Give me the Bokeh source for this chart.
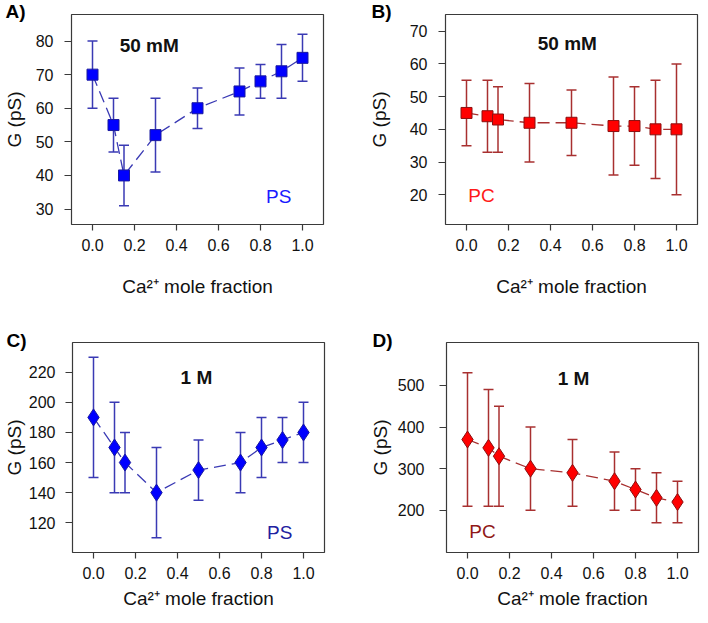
from bokeh.plotting import figure
from bokeh.models import ColumnDataSource, Whisker, TeeHead, Label, Range1d, FixedTicker, NumeralTickFormatter
from bokeh.layouts import column, row
from bokeh.embed import file_html
from bokeh.resources import INLINE

# ---------------- data ----------------
ca_fraction = [0.0, 0.1, 0.15, 0.3, 0.5, 0.7, 0.8, 0.9, 1.0]

ps_50mM = [70, 55, 40, 52, 60, 65, 68, 71, 75]
ps_50mM_upper = [80, 63, 49, 63, 66, 72, 73, 79, 82]
ps_50mM_lower = [60, 47, 31, 41, 54, 58, 63, 63, 68]

pc_50mM = [45, 44, 43, 42, 42, 41, 41, 40, 40]
pc_50mM_upper = [55, 55, 53, 54, 52, 56, 53, 55, 60]
pc_50mM_lower = [35, 33, 33, 30, 32, 26, 29, 25, 20]

ps_1M = [190, 170, 160, 140, 155, 160, 170, 175, 180]
ps_1M_upper = [230, 200, 180, 170, 175, 180, 190, 190, 200]
ps_1M_lower = [150, 140, 140, 110, 135, 140, 150, 160, 160]

pc_1M = [370, 350, 330, 300, 290, 270, 250, 230, 220]
pc_1M_upper = [530, 490, 450, 400, 370, 340, 300, 290, 270]
pc_1M_lower = [210, 210, 210, 200, 210, 200, 200, 170, 170]

x_ticks = [0.0, 0.2, 0.4, 0.6, 0.8, 1.0]
y_ticks_a = [30, 40, 50, 60, 70, 80]
y_ticks_b = [20, 30, 40, 50, 60, 70]
y_ticks_c = [120, 140, 160, 180, 200, 220]
y_ticks_d = [200, 300, 400, 500]

FONT = "Liberation Sans"
FRAME_COLOR = "#3a3a3a"


def make_panel(y, up, lo, yr, yticks, marker, fill, edge, bar,
               letter, letter_side, letter_xy, conc, conc_xy, lipid, lipid_xy, lipid_col,
               left, right, top, bottom, y_std, y_als, x_std, x_als):
    p = figure(output_backend="svg", toolbar_location=None,
               frame_width=252, frame_height=210,
               min_border_left=left, min_border_right=right,
               min_border_top=top, min_border_bottom=bottom,
               x_range=Range1d(-0.1, 1.1), y_range=Range1d(*yr))
    p.background_fill_color = "white"
    p.border_fill_color = "white"
    p.outline_line_color = FRAME_COLOR
    p.outline_line_width = 1.2
    p.grid.visible = False

    for ax in (p.xaxis[0], p.yaxis[0]):
        ax.axis_line_color = None
        ax.major_tick_line_color = FRAME_COLOR
        ax.major_tick_line_width = 1.2
        ax.major_tick_in = 0
        ax.minor_tick_line_color = None
        ax.major_label_text_font = FONT
        ax.major_label_text_font_size = "16px"
        ax.major_label_text_color = "#111111"
        ax.axis_label_text_font = FONT
        ax.axis_label_text_font_size = "19px"
        ax.axis_label_text_font_style = "normal"
        ax.axis_label_text_color = "#111111"

    p.xaxis[0].ticker = FixedTicker(ticks=x_ticks)
    p.xaxis[0].formatter = NumeralTickFormatter(format="0.0")
    p.xaxis[0].major_tick_out = 6
    p.xaxis[0].major_label_standoff = x_std
    p.xaxis[0].axis_label = "Ca²⁺ mole fraction"
    p.xaxis[0].axis_label_standoff = x_als

    p.yaxis[0].ticker = FixedTicker(ticks=yticks)
    p.yaxis[0].major_tick_out = 7
    p.yaxis[0].major_label_standoff = y_std
    p.yaxis[0].axis_label = "G (pS)"
    p.yaxis[0].axis_label_standoff = y_als

    src = ColumnDataSource(dict(x=ca_fraction, y=y, upper=up, lower=lo))

    p.line("x", "y", source=src, line_color=bar, line_width=1.3, line_dash="12 6")
    w = Whisker(base="x", upper="upper", lower="lower", source=src, dimension="height",
                line_color=bar, line_width=1.5,
                upper_head=TeeHead(size=10, line_color=bar, line_width=1.5),
                lower_head=TeeHead(size=10, line_color=bar, line_width=1.5))
    p.add_layout(w)
    if marker == "square":
        p.scatter("x", "y", source=src, marker="square", size=11,
                  fill_color=fill, line_color=edge, line_width=1)
    else:
        p.scatter("x", "y", source=src, marker="diamond", size=17,
                  fill_color=fill, line_color=edge, line_width=1)

    p.add_layout(Label(x=conc_xy[0], y=conc_xy[1], text=conc, text_font=FONT,
                       text_font_size="19px", text_font_style="bold", text_color="#111111",
                       text_align="center", text_baseline="middle"))
    p.add_layout(Label(x=lipid_xy[0], y=lipid_xy[1], text=lipid, text_font=FONT,
                       text_font_size="19px", text_color=lipid_col,
                       text_align="center", text_baseline="middle"))
    # panel letter lives in a side panel so that it is not clipped to the frame
    p.add_layout(Label(x=letter_xy[0], y=letter_xy[1], x_units="screen", y_units="screen",
                       text=letter, text_font=FONT, text_font_size="19px",
                       text_font_style="bold", text_color="#000000",
                       text_align="left", text_baseline="top"), letter_side)
    return p


pa = make_panel(ps_50mM, ps_50mM_upper, ps_50mM_lower, (25.4, 87.9), y_ticks_a,
                "square", "#0000ff", "#1a1aa0", "#3a3ab4",
                "A)", "right", (-318, 224), "50 mM", (0.27, 78.7), "PS", (0.887, 33.6), "#1a1aff",
                66, 22, 14, 78, 11, 8, 8, 22)
pb = make_panel(pc_50mM, pc_50mM_upper, pc_50mM_lower, (10.9, 75.1), y_ticks_b,
                "square", "#ff0000", "#8b1010", "#a83030",
                "B)", "left", (26, 224), "50 mM", (0.48, 66.3), "PC", (0.071, 19.7), "#ff1a1a",
                98, 2, 14, 78, 11, 17, 8, 22)
pc = make_panel(ps_1M, ps_1M_upper, ps_1M_lower, (100.2, 239.8), y_ticks_c,
                "diamond", "#0000ff", "#1a1aa0", "#3a3ab4",
                "C)", "right", (-318, 223), "1 M", (0.49, 216.7), "PS", (0.887, 113.4), "#2020a0",
                66, 22, 40, 62, 10, 1, 8, 6)
pd_ = make_panel(pc_1M, pc_1M_upper, pc_1M_lower, (98.9, 602.8), y_ticks_d,
                 "diamond", "#ff0000", "#8b1010", "#a83030",
                 "D)", "left", (26, 223), "1 M", (0.505, 516), "PC", (0.071, 148.6), "#901818",
                 98, 2, 40, 62, 15, 4, 8, 6)

layout = column(row(pa, pb), row(pc, pd_))

with open("out.html", "w") as f:
    f.write(file_html(layout, INLINE))
